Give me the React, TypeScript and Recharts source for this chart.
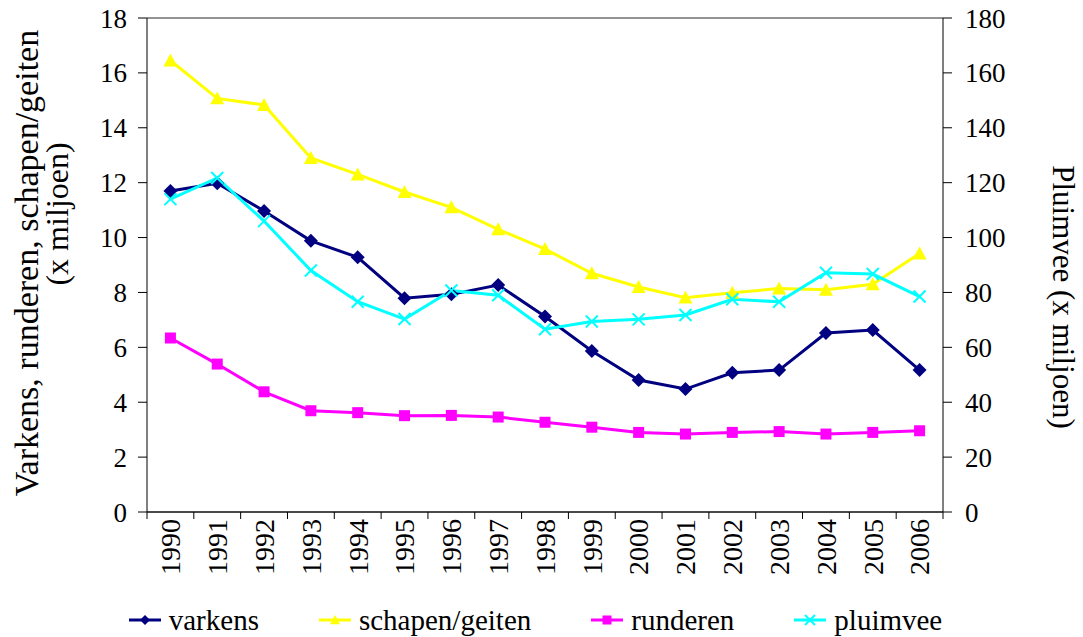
import { CartesianGrid, Legend, Line, LineChart, XAxis, YAxis } from "recharts";

const FONT = "'Liberation Serif', 'Times New Roman', serif";

const years = ["1990", "1991", "1992", "1993", "1994", "1995", "1996", "1997", "1998", "1999", "2000", "2001", "2002", "2003", "2004", "2005", "2006"];
const varkens = [11.7, 11.98, 10.97, 9.88, 9.28, 7.79, 7.93, 8.27, 7.12, 5.87, 4.81, 4.48, 5.07, 5.17, 6.52, 6.63, 5.17];
const schapen = [16.45, 15.07, 14.83, 12.9, 12.3, 11.66, 11.1, 10.3, 9.58, 8.7, 8.2, 7.81, 7.99, 8.14, 8.1, 8.3, 9.42];
const runderen = [6.34, 5.39, 4.38, 3.69, 3.62, 3.51, 3.52, 3.46, 3.27, 3.09, 2.9, 2.84, 2.9, 2.93, 2.84, 2.9, 2.96];
const pluimvee = [114, 121.7, 106, 88, 76.6, 70.3, 80.7, 79, 66.6, 69.4, 70.2, 71.8, 77.5, 76.6, 87.2, 86.7, 78.5];

const leftTicks = [0, 2, 4, 6, 8, 10, 12, 14, 16, 18];
const rightTicks = [0, 20, 40, 60, 80, 100, 120, 140, 160, 180];

const data = years.map((year, i) => ({
  year,
  varkens: varkens[i],
  schapen: schapen[i],
  runderen: runderen[i],
  pluimvee: pluimvee[i],
}));

const NAVY = "#000080";
const YELLOW = "#FFFF00";
const MAGENTA = "#FF00FF";
const CYAN = "#00FFFF";

function Diamond({ cx, cy, r = 7 }) {
  return <path d={`M${cx},${cy - r}L${cx + r},${cy}L${cx},${cy + r}L${cx - r},${cy}Z`} fill={NAVY} />;
}
function Triangle({ cx, cy, r = 7 }) {
  return <path d={`M${cx},${cy - r}L${cx + r},${cy + r * 0.85}L${cx - r},${cy + r * 0.85}Z`} fill={YELLOW} />;
}
function Square({ cx, cy, r = 5.5 }) {
  return <rect x={cx - r} y={cy - r} width={r * 2} height={r * 2} fill={MAGENTA} />;
}
function Cross({ cx, cy, r = 6 }) {
  return (
    <g stroke={CYAN} strokeWidth={2}>
      <line x1={cx - r} y1={cy - r} x2={cx + r} y2={cy + r} />
      <line x1={cx - r} y1={cy + r} x2={cx + r} y2={cy - r} />
    </g>
  );
}

const series = [
  { key: "varkens", name: "varkens", color: NAVY, Mark: Diamond, small: 5 },
  { key: "schapen", name: "schapen/geiten", color: YELLOW, Mark: Triangle, small: 5 },
  { key: "runderen", name: "runderen", color: MAGENTA, Mark: Square, small: 4.5 },
  { key: "pluimvee", name: "pluimvee", color: CYAN, Mark: Cross, small: 5 },
];

// year labels are rotated; tick marks sit between the categories
function YearTick(props) {
  const { x, y, payload, index, visibleTicksCount } = props;
  const half = payload.offset || 0;
  const axisY = y - 7;
  return (
    <g>
      <line x1={x - half} y1={axisY} x2={x - half} y2={axisY + 7} stroke="#000" />
      {index === visibleTicksCount - 1 && (
        <line x1={x + half} y1={axisY} x2={x + half} y2={axisY + 7} stroke="#000" />
      )}
      <text
        x={x}
        y={y}
        transform={`rotate(-90 ${x} ${y})`}
        textAnchor="end"
        dy="0.35em"
        fontSize={28}
        fontFamily={FONT}
        fill="#000"
      >
        {payload.value}
      </text>
    </g>
  );
}

function LeftTitle({ viewBox }) {
  const cy = viewBox.y + viewBox.height / 2;
  return (
    <g fontFamily={FONT} fill="#000">
      <text x={26} y={cy - 2} transform={`rotate(-90 26 ${cy - 2})`} textAnchor="middle" dy="0.35em" fontSize={34}>
        Varkens, runderen, schapen/geiten
      </text>
      <text x={57} y={cy - 51} transform={`rotate(-90 57 ${cy - 51})`} textAnchor="middle" dy="0.35em" fontSize={32}>
        (x miljoen)
      </text>
    </g>
  );
}

function RightTitle({ viewBox }) {
  const cy = viewBox.y + viewBox.height / 2;
  const x = 1064;
  return (
    <text
      x={x}
      y={cy + 32}
      transform={`rotate(90 ${x} ${cy + 32})`}
      textAnchor="middle"
      dy="0.35em"
      fontFamily={FONT}
      fontSize={31}
      fill="#000"
    >
      Pluimvee (x miljoen)
    </text>
  );
}

function LegendContent() {
  return (
    <div
      style={{
        height: 34,
        display: "flex",
        justifyContent: "center",
        alignItems: "center",
        gap: 60,
        fontFamily: FONT,
        fontSize: 29,
        color: "#000",
        paddingRight: 12,
      }}
    >
      {series.map((s) => (
        <div key={s.key} style={{ display: "flex", alignItems: "center", gap: 8 }}>
          <svg width={32} height={14}>
            <line x1={0} y1={7} x2={32} y2={7} stroke={s.color} strokeWidth={3} />
            <s.Mark cx={16} cy={7} r={s.small} />
          </svg>
          <span style={{ lineHeight: "34px" }}>{s.name}</span>
        </div>
      ))}
    </div>
  );
}

export default function App() {
  return (
    <div style={{ position: "absolute", left: 0, top: 0, background: "#fff" }}>
      <LineChart width={1083} height={637} data={data} margin={{ top: 18, right: 0, left: 0, bottom: 0 }}>
        <CartesianGrid vertical={false} stroke="#000" strokeOpacity={0.85} />
        <XAxis
          dataKey="year"
          scale="band"
          height={91}
          interval={0}
          stroke="#000"
          tickLine={false}
          tickSize={7}
          tickMargin={0}
          tick={<YearTick />}
        />
        <YAxis
          yAxisId="left"
          width={147}
          domain={[0, 18]}
          ticks={leftTicks}
          stroke="#000"
          tickSize={9}
          tickMargin={11}
          tick={{ fill: "#000", fontSize: 27, fontFamily: FONT }}
          label={<LeftTitle />}
        />
        <YAxis
          yAxisId="right"
          orientation="right"
          width={140}
          domain={[0, 180]}
          ticks={rightTicks}
          stroke="#000"
          tickSize={9}
          tickMargin={13}
          tick={{ fill: "#000", fontSize: 27, fontFamily: FONT }}
          label={<RightTitle />}
        />
        <Legend verticalAlign="bottom" content={<LegendContent />} />
        {series.map((s) => (
          <Line
            key={s.key}
            yAxisId={s.key === "pluimvee" ? "right" : "left"}
            dataKey={s.key}
            name={s.name}
            stroke={s.color}
            strokeWidth={3}
            dot={(p) => <s.Mark key={`${s.key}-${p.index}`} cx={p.cx} cy={p.cy} />}
            activeDot={false}
            isAnimationActive={false}
          />
        ))}
      </LineChart>
    </div>
  );
}
